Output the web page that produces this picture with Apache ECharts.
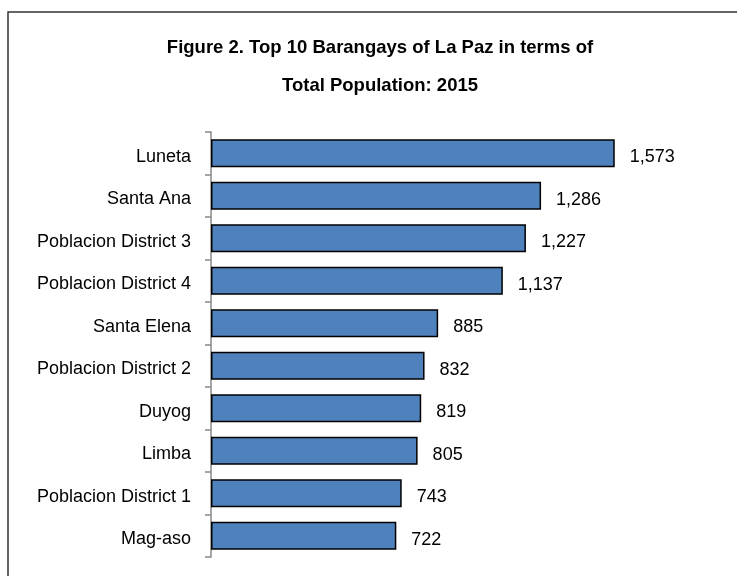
<!DOCTYPE html>
<html>
<head>
<meta charset="utf-8">
<script src="https://cdn.jsdelivr.net/npm/echarts@6/dist/echarts.min.js"></script>
<style>html,body{margin:0;padding:0;background:#fff}#c{width:737px;height:576px}</style>
</head>
<body>
<div id="c"></div>
<script>
const categories = ["Luneta","Santa Ana","Poblacion District 3","Poblacion District 4","Santa Elena","Poblacion District 2","Duyog","Limba","Poblacion District 1","Mag-aso"];
const population = [1573,1286,1227,1137,885,832,819,805,743,722];
const titleText = "Figure 2. Top 10 Barangays of La Paz in terms of\nTotal Population: 2015";
const FONT = '"Liberation Sans Narrow", "Liberation Sans", Arial, sans-serif';

const chart = echarts.init(document.getElementById('c'), null, {renderer: 'canvas'});
chart.setOption({
  animation: false,
  backgroundColor: '#fff',
  title: {
    text: titleText,
    left: 380,
    top: 29,
    padding: 0,
    textAlign: 'center',
    textStyle: {fontFamily: FONT, fontWeight: 'bold', fontSize: 18.5, lineHeight: 38, color: '#000'}
  },
  graphic: [{
    type: 'rect', shape: {x: 8, y: 12, width: 760, height: 600},
    style: {fill: 'none', stroke: '#333', lineWidth: 1.5}, silent: true
  }],
  grid: {left: 211, right: 64, top: 132, bottom: 19, containLabel: false},
  xAxis: {type: 'value', min: 0, max: 1800, show: false},
  yAxis: {
    type: 'category', data: categories, inverse: true,
    axisLine: {show: true, lineStyle: {color: '#888', width: 1.5}},
    axisTick: {show: true, length: 6, lineStyle: {color: '#888', width: 1.5}},
    axisLabel: {
      fontFamily: FONT, fontSize: 18, color: '#000', margin: 20,
      formatter: v => '{a|' + v + '}',
      rich: {a: {fontFamily: FONT, fontSize: 18, color: '#000', padding: [7, 0, 0, 0]}}
    }
  },
  series: [{
    type: 'bar', data: population, barCategoryGap: '34%',
    itemStyle: {color: '#4F81BD', borderColor: '#000', borderWidth: 1.5},
    label: {
      show: true, position: 'right', distance: 15, offset: [0, 4],
      fontFamily: FONT, fontSize: 18, color: '#000',
      formatter: p => p.value.toLocaleString('en-US')
    }
  }]
});
</script>
</body>
</html>
